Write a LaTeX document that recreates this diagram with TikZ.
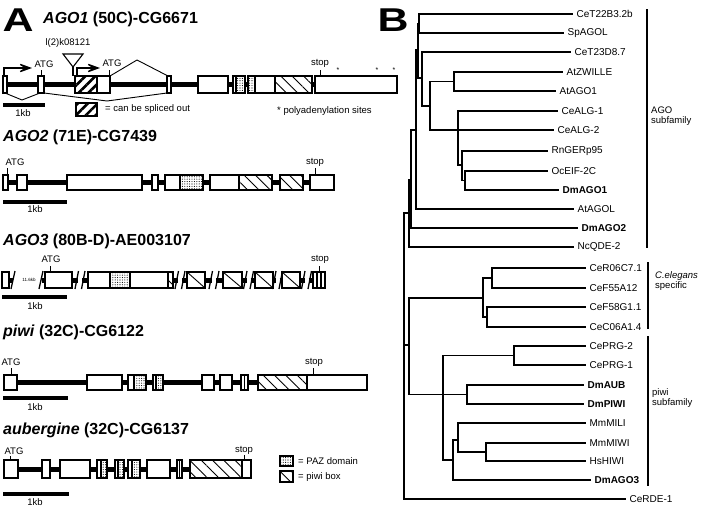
\documentclass[tikz,border=0pt]{standalone}
\usepackage{fontspec}
\setmainfont{Liberation Sans}
\newfontfamily\panelfont{Liberation Sans}[FakeStretch=1.3]
\usetikzlibrary{arrows.meta, patterns, patterns.meta}

\tikzset{
  exon/.style={draw, line width=1.1pt},
  intron/.style={line width=5pt},
  kbbar/.style={line width=4.5pt},
  atgtick/.style={line width=0.9pt},
  splice/.style={line width=0.9pt, line join=round},
  promoter/.style={line width=1.3pt, -{Stealth[length=18pt, width=13pt, inset=11pt]}},
  branch/.style={line width=1.3pt, line cap=rect},
  pazfill/.style={pattern={Dots[distance=2.4pt, radius=0.55pt]}},
  piwifill/.style={pattern={Lines[angle=-45, distance=8pt, line width=0.9pt]}},
  altfill/.style={pattern={Lines[angle=45, distance=7pt, line width=2.6pt]}},
  genetitle/.style={anchor=west, inner sep=0pt, font=\fontsize{16}{18}\selectfont\bfseries},
  smalltxt/.style={inner sep=0pt, font=\fontsize{9.5}{10}\selectfont},
  legtxt/.style={anchor=west, inner sep=0pt, font=\fontsize{9.5}{10}\selectfont},
  leaf/.style={anchor=west, inner sep=0pt, xshift=4pt, font=\fontsize{10}{11}\selectfont},
  clade/.style={anchor=west, inner sep=0pt, align=left, font=\fontsize{9.5}{10}\selectfont},
  panel/.style={inner sep=0pt, font=\panelfont\bfseries\fontsize{33}{35}\selectfont},
}

\begin{document}
\begin{tikzpicture}[x=1pt, y=-1pt]
\useasboundingbox (0,0) rectangle (706,508);

\node[panel] (pa) at (18,20) {A};
\node[panel] (pb) at (393,20) {B};

% AGO1
\node[genetitle] (t1) at (43,19) {\textit{AGO1} (50C)-CG6671};
\def\agoa{3/7, 38/44, 75/110, 167/171, 198/228, 233/245, 248/312, 315/397}
\draw[intron] (5,84.5) -- (315,84.5);
\foreach \a/\b in \agoa \fill[white] (\a,76) rectangle (\b,93);
\fill[altfill] (75,76) rectangle (97,93);
\fill[pazfill] (236,76) rectangle (245,93);
\fill[pazfill] (248,76) rectangle (255,93);
\fill[piwifill] (275,76) rectangle (312,93);
\foreach \a/\b in \agoa \draw[exon] (\a,76) rectangle (\b,93);
\foreach \d in {97, 236, 255, 275} \draw[exon] (\d,76) -- (\d,93);
\draw[promoter] (4,77) -- (4,68) -- (32,68);
\draw[promoter] (77,76) -- (77,68) -- (100,68);
\draw[exon, fill=white] (63,54) -- (83,54) -- (73,67) -- cycle;
\draw[exon] (73,67) -- (73,76);
\node[smalltxt] (ins) at (68,43) {l(2)k08121};
\draw[splice] (5,93) -- (22,100) -- (40,93);
\draw[splice] (44,93) -- (107,101) -- (167,93);
\draw[splice] (110,76) -- (137,60) -- (168,76);
\draw[atgtick] (41,76) -- (41,70);
\node[smalltxt] (atg1a) at (44,64) {ATG};
\draw[atgtick] (109,76) -- (109,70);
\node[smalltxt] (atg1b) at (112,63) {ATG};
\draw[atgtick] (320,76) -- (320,70);
\node[smalltxt] (stop1) at (320,63) {stop};
\foreach \x [count=\i] in {338, 377, 394}
  \node[inner sep=0pt, font=\fontsize{7}{7}\selectfont] (pa\i) at (\x,70) {*};
\draw[kbbar] (3,105) -- (45,105);
\node[smalltxt] (kb1) at (23,113) {1kb};
\fill[white] (76,103) rectangle (97,116);
\fill[altfill] (76,103) rectangle (97,116);
\draw[exon] (76,103) rectangle (97,116);
\node[legtxt] (leg1) at (105,109) {= can be spliced out};
\node[legtxt] (leg2) at (277,111) {* polyadenylation sites};

% AGO2
\node[genetitle] (t2) at (3,137) {\textit{AGO2} (71E)-CG7439};
\def\agob{3/8, 17/27, 67/142, 152/158, 165/203, 210/272, 280/303, 310/334}
\draw[intron] (5,182.5) -- (312,182.5);
\foreach \a/\b in \agob \fill[white] (\a,175) rectangle (\b,190);
\fill[pazfill] (180,175) rectangle (203,190);
\fill[piwifill] (239,175) rectangle (272,190);
\fill[piwifill] (280,175) rectangle (303,190);
\foreach \a/\b in \agob \draw[exon] (\a,175) rectangle (\b,190);
\foreach \d in {180, 239} \draw[exon] (\d,175) -- (\d,190);
\draw[atgtick] (7,175) -- (7,168);
\node[smalltxt] (atg2) at (15,162) {ATG};
\draw[atgtick] (315,175) -- (315,168);
\node[smalltxt] (stop2) at (315,162) {stop};
\draw[kbbar] (3,202) -- (67,202);
\node[smalltxt] (kb2) at (35,209) {1kb};

% AGO3
\node[genetitle] (t3) at (3,241) {\textit{AGO3} (80B-D)-AE003107};
\def\agoc{2/9, 45/72, 88/173, 187/205, 223/242, 255/273, 282/300, 313/325}
\foreach \s/\e in {72/88, 173/187, 205/223, 242/255, 273/282, 300/313} {
  \pgfmathsetmacro\m{(\s+\e)/2}
  \draw[intron] (\s,280) -- (\m-2,280);
  \draw[intron] (\m+2,280) -- (\e,280);
  \draw[line width=1.3pt] (\m-5,289) -- (\m-1.5,271);
  \draw[line width=1.3pt] (\m+1.5,289) -- (\m+5,271);
}
\draw[intron] (9,280) -- (13,280);
\draw[line width=1.3pt] (11,289) -- (15,271);
\node[inner sep=0pt, font=\fontsize{4.5}{5}\selectfont] (gap3) at (29,280) {11.6kb};
\draw[line width=1.3pt] (39,289) -- (43,271);
\draw[intron] (42,280) -- (45,280);
\foreach \a/\b in \agoc \fill[white] (\a,272) rectangle (\b,288);
\fill[pazfill] (110,272) rectangle (130,288);
\fill[piwifill] (168,272) rectangle (173,288);
\foreach \a/\b in \agoc \draw[exon] (\a,272) rectangle (\b,288);
\foreach \d in {110, 130, 168, 317, 321} \draw[exon] (\d,272) -- (\d,288);
\foreach \a/\b in {187/205, 223/242, 255/273, 282/300} \draw[line width=0.9pt] (\a,272) -- (\b,288);
\draw[atgtick] (50,272) -- (50,266);
\node[smalltxt] (atg3) at (51,259) {ATG};
\draw[atgtick] (319,272) -- (319,266);
\node[smalltxt] (stop3) at (320,259) {stop};
\draw[kbbar] (2,297) -- (67,297);
\node[smalltxt] (kb3) at (35,306) {1kb};

% piwi
\node[genetitle] (t4) at (3,332) {\textit{piwi} (32C)-CG6122};
\def\piwi{4/17, 87/122, 128/146, 153/163, 202/214, 220/232, 241/248, 258/367}
\draw[intron] (10,382.5) -- (360,382.5);
\foreach \a/\b in \piwi \fill[white] (\a,375) rectangle (\b,390);
\fill[pazfill] (134,375) rectangle (146,390);
\fill[pazfill] (156,375) rectangle (163,390);
\fill[piwifill] (258,375) rectangle (307,390);
\foreach \a/\b in \piwi \draw[exon] (\a,375) rectangle (\b,390);
\foreach \d in {134, 156, 244.5, 307} \draw[exon] (\d,375) -- (\d,390);
\draw[atgtick] (11,375) -- (11,368);
\node[smalltxt] (atg4) at (11,362) {ATG};
\draw[atgtick] (313,375) -- (313,368);
\node[smalltxt] (stop4) at (314,362) {stop};
\draw[kbbar] (3,398) -- (68,398);
\node[smalltxt] (kb4) at (35,407) {1kb};

% aubergine
\node[genetitle] (t5) at (3,430) {\textit{aubergine} (32C)-CG6137};
\def\aub{4/18, 42/50, 60/90, 97/107, 115/124, 128/140, 147/170, 177/182, 190/251}
\draw[intron] (10,469) -- (245,469);
\foreach \a/\b in \aub \fill[white] (\a,460) rectangle (\b,478);
\fill[pazfill] (101,460) rectangle (107,478);
\fill[pazfill] (118,460) rectangle (124,478);
\fill[pazfill] (132,460) rectangle (140,478);
\fill[piwifill] (190,460) rectangle (242,478);
\foreach \a/\b in \aub \draw[exon] (\a,460) rectangle (\b,478);
\foreach \d in {101, 118, 132, 179.5, 242} \draw[exon] (\d,460) -- (\d,478);
\draw[atgtick] (10,460) -- (10,456);
\node[smalltxt] (atg5) at (14,451) {ATG};
\draw[atgtick] (244,460) -- (244,455);
\node[smalltxt] (stop5) at (244,450) {stop};
\draw[kbbar] (3,494) -- (69,494);
\node[smalltxt] (kb5) at (35,502) {1kb};

% legend
\fill[white] (280,456) rectangle (293,466);
\fill[pazfill] (280,456) rectangle (293,466);
\draw[exon] (280,456) rectangle (293,466);
\node[legtxt] (leg3) at (298,461) {= PAZ domain};
\fill[white] (280,471) rectangle (293,482);
\fill[piwifill] (280,471) rectangle (293,482);
\draw[exon] (280,471) rectangle (293,482);
\node[legtxt] (leg4) at (298,477) {= piwi box};

% tree: leaves
\foreach \y/\xs/\xe/\name [count=\i] in {
    14/419/572/CeT22B3.2b, 33/419/563/SpAGOL, 52/422/570/CeT23D8.7,
    72/454/562/AtZWILLE, 91/454/555/AtAGO1, 111/458/557/CeALG-1,
    130/430/553/CeALG-2, 151/462/547/RnGERp95, 171/465/547/OcEIF-2C,
    190/465/558/\textbf{DmAGO1}, 209/416/573/AtAGOL, 228/411/577/\textbf{DmAGO2},
    247/409/573/NcQDE-2, 268/492/585/CeR06C7.1, 288/492/585/CeF55A12,
    307/487/585/CeF58G1.1, 327/487/585/CeC06A1.4, 346/514/585/CePRG-2,
    365/514/585/CePRG-1, 385/467/583/\textbf{DmAUB}, 404/467/583/\textbf{DmPIWI},
    423/458/585/MmMILI, 443/486/585/MmMIWI, 461/486/585/HsHIWI,
    480/453/590/\textbf{DmAGO3}, 499/404/625/CeRDE-1}
  \draw[branch] (\xs,\y) -- (\xe,\y) node[leaf] (leaf\i) {\name};

% tree: inner nodes and their stems
\foreach \x/\ya/\yb in {419/14/33, 418/23.5/78, 422/52/106, 430/83/130,
    454/72/91, 458/111/165, 462/151/180.5, 465/171/190, 416/50/209,
    411/130/228, 409/180/247, 404/213/499, 409/298/394.5, 483/278/317,
    492/268/288, 487/307/327, 443/355.5/460, 514/346/365, 467/385/404,
    453/440/480, 458/423/452, 486/443/461}
  \draw[branch] (\x,\ya) -- (\x,\yb);
\foreach \xa/\xb/\y in {418/419/23.5, 416/418/50, 418/422/78, 422/430/106,
    430/454/81.5, 458/462/165, 462/465/180.5, 411/416/130, 409/411/180,
    404/409/213, 404/409/345, 409/483/298, 483/492/278, 483/487/317,
    409/467/394.5, 443/514/355.5, 443/453/460, 453/458/440, 458/486/452}
  \draw[branch] (\xa,\y) -- (\xb,\y);

% subfamily brackets
\draw[branch] (647,10) -- (647,247);
\draw[branch] (648,263) -- (648,328);
\draw[branch] (648,337) -- (648,485);
\node[clade] (ago) at (651,116) {AGO\\subfamily};
\node[clade] (cel) at (655,281.5) {\textit{C.elegans}\\specific};
\node[clade] (piw) at (652,398) {piwi\\subfamily};
\end{tikzpicture}
\end{document}
